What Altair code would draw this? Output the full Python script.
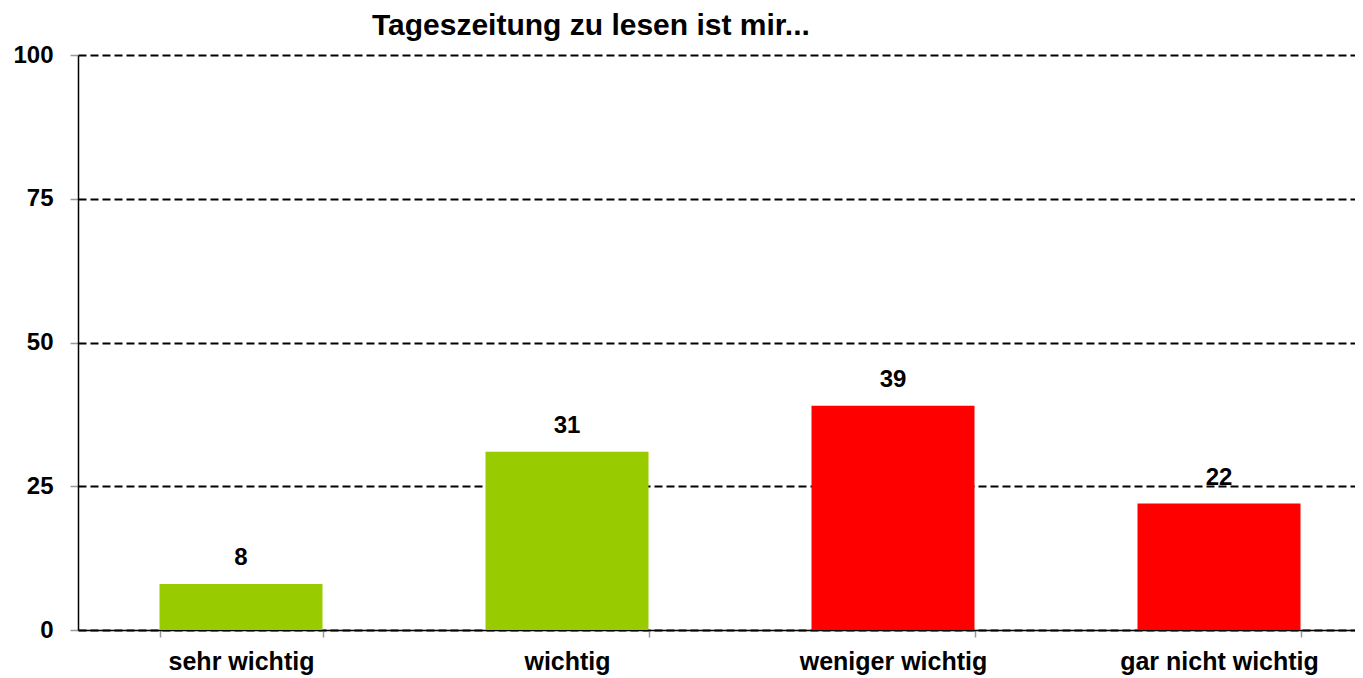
import altair as alt
import pandas as pd

categories = ["sehr wichtig", "wichtig", "weniger wichtig", "gar nicht wichtig"]
values = [8, 31, 39, 22]
colors = ["#99CC00", "#99CC00", "#FF0000", "#FF0000"]
y_ticks = [0, 25, 50, 75, 100]
title_text = "Tageszeitung zu lesen ist mir..."

df = pd.DataFrame({"cat": categories, "val": values, "col": colors})

FONT = "Liberation Sans"

x_enc = alt.X(
    "cat:N",
    sort=categories,
    scale=alt.Scale(range=[0, 1304], paddingInner=0.5, paddingOuter=0.25),
    axis=alt.Axis(
        title=None,
        labelAngle=0,
        labelFont=FONT,
        labelFontSize=25,
        labelFontWeight="bold",
        labelColor="black",
        labelPadding=12,
        labelLimit=500,
        domainColor="black",
        domainWidth=1.5,
        tickColor="#999999",
        tickSize=7,
        tickWidth=1.5,
        tickBand="extent",
        grid=False,
    ),
)

y_enc = alt.Y(
    "val:Q",
    scale=alt.Scale(domain=[0, 100], nice=False),
    axis=alt.Axis(
        title=None,
        values=y_ticks,
        labelFont=FONT,
        labelFontSize=24,
        labelFontWeight="bold",
        labelColor="black",
        labelPadding=17,
        domainColor="black",
        domainWidth=1.5,
        tickColor="#999999",
        tickSize=8,
        tickWidth=1.5,
        grid=True,
        gridColor="black",
        gridWidth=2,
        gridDash=[8, 4],
    ),
)

bars = alt.Chart(df).mark_bar().encode(
    x=x_enc,
    y=y_enc,
    color=alt.Color("col:N", scale=None),
)

labels = alt.Chart(df).mark_text(
    font=FONT, fontSize=24, fontWeight="bold", color="black",
    baseline="alphabetic", dy=-19,
).encode(
    x=alt.X("cat:N", sort=categories),
    y=alt.Y("val:Q"),
    text=alt.Text("val:Q"),
)

chart = (
    alt.layer(bars, labels)
    .properties(
        width=1277,
        height=575,
        autosize=alt.AutoSizeParams(type="none"),
        padding={"left": 70, "top": 47, "right": 0, "bottom": 47},
        title=alt.TitleParams(
            text=title_text,
            font=FONT,
            fontSize=30,
            fontWeight="bold",
            color="black",
            anchor="start",
            dx=359,
            dy=12,
            offset=14,
        ),
    )
    .configure_view(stroke=None)
    .configure_axis(labelFlush=False)
)

chart.save("out.html", embed_options={"renderer": "svg", "actions": False})
